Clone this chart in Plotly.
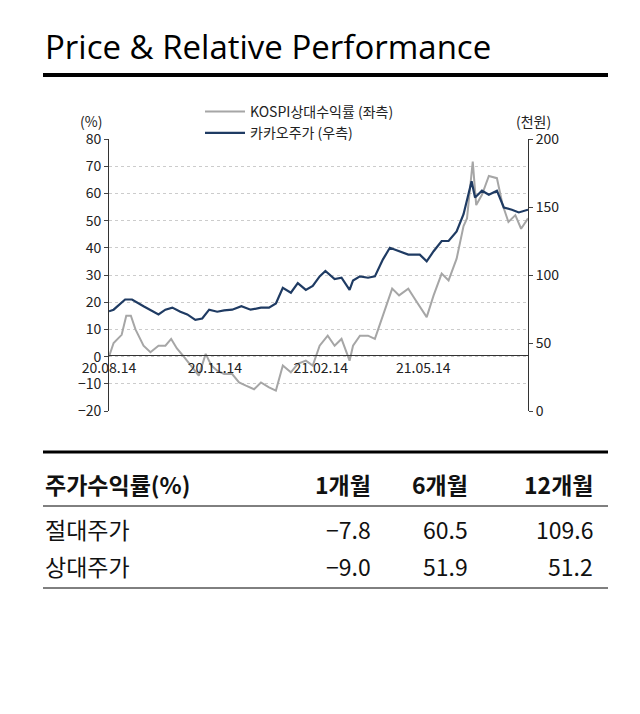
import pandas as pd
import plotly.graph_objects as go

start = pd.Timestamp("2020-08-14")

# 카카오주가 (천원), weekly-ish readings
kakao_days = [0, 4, 14, 20, 30, 36, 43, 49, 55, 62, 68, 75, 81, 87, 94, 100, 107, 115, 123, 132,
              139, 145, 151, 158, 164, 171, 177, 183, 188, 196, 202, 209, 212, 218, 225, 231, 238,
              244, 252, 260, 270, 276, 282, 289, 295, 302, 308, 311, 315, 318, 324, 330, 337, 343,
              350, 356, 364]
kakao = [73.3, 74.5, 82, 82, 77, 74.5, 71, 74.5, 76, 73, 71, 67, 68, 74.5, 73, 74, 74.5, 77, 74.5, 76,
         76, 79, 90.5, 87, 94, 89, 92, 99, 103, 97, 98, 89, 96, 99, 98, 99, 111.5,
         120, 117.5, 115, 115, 110, 117.5, 125, 125, 132, 144.7, 154.5, 169, 157, 162, 159, 162, 149.6,
         148, 146, 148]

# KOSPI 상대수익률 (%)
rel_days = [0, 4, 11, 15, 19, 23, 30, 36, 43, 49, 54, 59, 65, 71, 78, 84, 89, 94, 100, 107, 113, 119,
            126, 132, 139, 145, 151, 158, 164, 171, 177, 183, 190, 196, 202, 209, 212, 218, 225, 231,
            238, 246, 252, 260, 266, 276, 282, 289, 295, 302, 308, 311, 316, 319, 324, 330, 337, 342,
            347, 353, 358, 364]
rel = [0, 5, 8, 15, 15, 10, 4, 1.6, 4, 4, 6.5, 3, 0, -3.3, -7, 1, -3.3, -5.2, -6.4, -6.4, -9.5, -10.7,
       -12, -9.5, -11.3, -12.5, -3.3, -5.8, -2.7, -1.5, -3.3, 4, 7.7, 4, 6.5, -1.5, 4, 7.7, 7.7, 6.5,
       15, 25, 22.5, 25, 21, 14.5, 22.5, 30.5, 28, 36, 48, 50.8, 71.7, 55.7, 59.5, 66.4, 65.6, 55.7,
       49.5, 52, 47, 50.8]

tick_dates = ["2020-08-14", "2020-11-14", "2021-02-14", "2021-05-14"]
tick_text = ["20.08.14", "20.11.14", "21.02.14", "21.05.14"]

periods = ["1개월", "6개월", "12개월"]
absolute = ["-7.8", "60.5", "109.6"]
relative = ["-9.0", "51.9", "51.2"]

FONT = "Noto Sans CJK KR"

kakao_x = [start + pd.Timedelta(days=d) for d in kakao_days]
rel_x = [start + pd.Timedelta(days=d) for d in rel_days]

fig = go.Figure()
fig.add_trace(go.Scatter(x=rel_x, y=rel, mode="lines", name="KOSPI상대수익률 (좌측)",
                         line=dict(color="#a6a6a6", width=2)))
fig.add_trace(go.Scatter(x=kakao_x, y=kakao, mode="lines", name="카카오주가 (우측)", yaxis="y2",
                         line=dict(color="#1f3b63", width=2.2)))

def py(px):
    return 1 - px / 714

fig.update_layout(
    width=640, height=714, margin=dict(l=0, r=0, t=0, b=0),
    paper_bgcolor="white", plot_bgcolor="white",
    font=dict(family=FONT, size=14, color="#222"),
    showlegend=True,
    legend=dict(x=0.3, y=py(88), xanchor="left", yanchor="top", bgcolor="rgba(255,255,255,0)",
                font=dict(size=14), itemwidth=40, tracegroupgap=0),
    xaxis=dict(domain=[101 / 640, 520 / 640], anchor="free", position=py(347), automargin=False,
               range=[start, start + pd.Timedelta(days=364)],
               tickvals=tick_dates, ticktext=tick_text, showgrid=False,
               showline=True, linecolor="#333", ticks="", tickfont=dict(size=14)),
    yaxis=dict(domain=[py(403), py(131)], range=[-20, 80], dtick=10, automargin=False,
               showline=True, linecolor="#333", ticks="outside", ticklen=4,
               showgrid=True, gridcolor="#cccccc", griddash="dot", zeroline=False,
               tickfont=dict(size=14)),
    yaxis2=dict(overlaying="y", side="right", anchor="x", range=[0, 200], dtick=50, automargin=False,
                showline=True, linecolor="#333", ticks="outside", ticklen=4,
                showgrid=False, zeroline=False, tickfont=dict(size=14)),
)

# title and rules
fig.add_annotation(text="Price & Relative Performance", x=35 / 640, y=py(38), xref="paper", yref="paper",
                   xanchor="left", yanchor="middle", showarrow=False,
                   font=dict(family="Open Sans", size=33, color="#000"))
fig.add_shape(type="line", xref="paper", yref="paper", x0=35 / 640, x1=600 / 640, y0=py(67), y1=py(67),
              line=dict(color="black", width=4))
fig.add_annotation(text="(%)", x=70 / 640, y=py(101), xref="paper", yref="paper", showarrow=False,
                   font=dict(size=14))
fig.add_annotation(text="(천원)", x=545 / 640, y=py(101), xref="paper", yref="paper", showarrow=False,
                   font=dict(size=14))

# table
fig.add_shape(type="line", xref="paper", yref="paper", x0=35 / 640, x1=600 / 640, y0=py(444), y1=py(444),
              line=dict(color="black", width=3))
fig.add_shape(type="line", xref="paper", yref="paper", x0=35 / 640, x1=600 / 640, y0=py(498), y1=py(498),
              line=dict(color="black", width=1))
fig.add_shape(type="line", xref="paper", yref="paper", x0=35 / 640, x1=600 / 640, y0=py(580), y1=py(580),
              line=dict(color="black", width=1))
col_x = [365, 462, 587]
rows = [("주가수익률(%)", periods, 476, True), ("절대주가", absolute, 521, False), ("상대주가", relative, 558, False)]
for label, vals, ypx, bold in rows:
    wrap = (lambda s: "<b>" + s + "</b>") if bold else (lambda s: s)
    fig.add_annotation(text=wrap(label), x=35 / 640, y=py(ypx), xref="paper", yref="paper",
                       xanchor="left", yanchor="middle", showarrow=False, font=dict(size=23, color="#111"))
    for cx, v in zip(col_x, vals):
        fig.add_annotation(text=wrap(v.replace("-", "−")), x=cx / 640, y=py(ypx), xref="paper", yref="paper",
                           xanchor="right", yanchor="middle", showarrow=False, font=dict(size=23, color="#111"))

fig.add_shape(type="rect", xref="paper", yref="paper", x0=0, x1=1, y0=0, y1=py(708),
              fillcolor="#dddddd", line=dict(width=0))

fig.write_html("out.html")
